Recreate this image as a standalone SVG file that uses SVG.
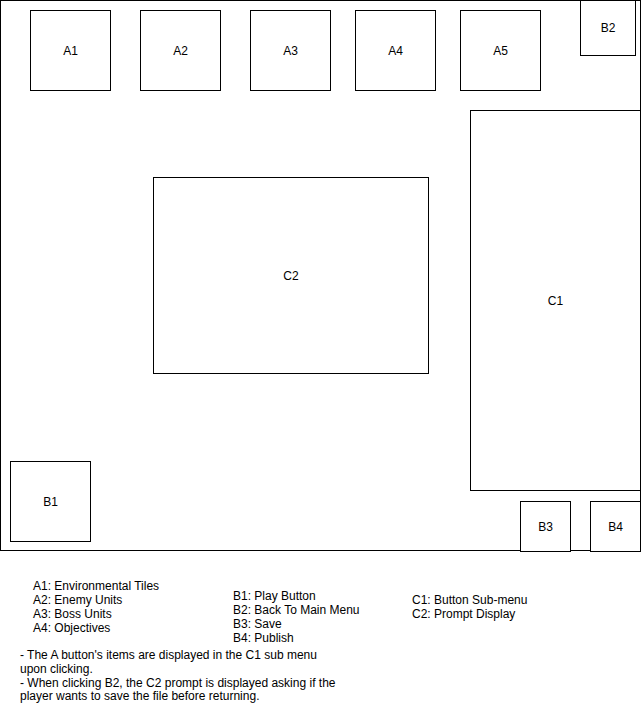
<svg xmlns="http://www.w3.org/2000/svg" width="641" height="703" viewBox="0 0 641 703">
<style>
.b{fill:#fff;stroke:#000;stroke-width:1}
.l{font-family:"Liberation Sans",Arial,sans-serif;font-size:12px;fill:#000;text-anchor:middle}
.t{font-family:"Liberation Sans",Arial,sans-serif;font-size:12px;fill:#000}
</style>
<rect width="641" height="703" fill="#fff"/>
<g id="frame"><rect class="b" x="0.5" y="0.5" width="640" height="550"/></g>
<g id="A1"><rect class="b" x="30.5" y="10.5" width="80" height="80"/><text class="l" x="70.5" y="54.5">A1</text></g>
<g id="A2"><rect class="b" x="140.5" y="10.5" width="80" height="80"/><text class="l" x="180.5" y="54.5">A2</text></g>
<g id="A3"><rect class="b" x="250.5" y="10.5" width="80" height="80"/><text class="l" x="290.5" y="54.5">A3</text></g>
<g id="A4"><rect class="b" x="355.5" y="10.5" width="80" height="80"/><text class="l" x="395.5" y="54.5">A4</text></g>
<g id="A5"><rect class="b" x="460.5" y="10.5" width="80" height="80"/><text class="l" x="500.5" y="54.5">A5</text></g>
<g id="B2"><rect class="b" x="580.5" y="0.5" width="55" height="55"/><text class="l" x="608" y="32">B2</text></g>
<g id="C1"><rect class="b" x="470.5" y="110.5" width="170" height="380"/><text class="l" x="555.5" y="304.5">C1</text></g>
<g id="C2"><rect class="b" x="153.5" y="177.5" width="275" height="196"/><text class="l" x="291" y="279.5">C2</text></g>
<g id="B1"><rect class="b" x="10.5" y="461.5" width="80" height="80"/><text class="l" x="50.5" y="505.5">B1</text></g>
<g id="B3"><rect class="b" x="520.5" y="501.5" width="50" height="50"/><text class="l" x="545.5" y="530.5">B3</text></g>
<g id="B4"><rect class="b" x="590.5" y="501.5" width="50" height="50"/><text class="l" x="615.5" y="530.5">B4</text></g>
<g id="legend">
<text class="t" x="33" y="590">A1: Environmental Tiles</text>
<text class="t" x="33" y="604">A2: Enemy Units</text>
<text class="t" x="33" y="618">A3: Boss Units</text>
<text class="t" x="33" y="632">A4: Objectives</text>
<text class="t" x="233" y="600">B1: Play Button</text>
<text class="t" x="233" y="614">B2: Back To Main Menu</text>
<text class="t" x="233" y="628">B3: Save</text>
<text class="t" x="233" y="642">B4: Publish</text>
<text class="t" x="412" y="604">C1: Button Sub-menu</text>
<text class="t" x="412" y="618">C2: Prompt Display</text>
<text class="t" x="20" y="658.5">- The A button's items are displayed in the C1 sub menu</text>
<text class="t" x="20" y="672.5">upon clicking.</text>
<text class="t" x="20" y="686.5">- When clicking B2, the C2 prompt is displayed asking if the</text>
<text class="t" x="20" y="700">player wants to save the file before returning.</text>
</g>
</svg>
